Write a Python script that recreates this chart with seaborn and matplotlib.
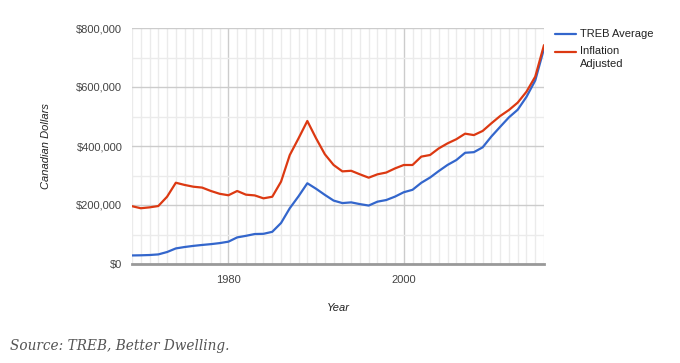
import numpy as np
import pandas as pd
import matplotlib
matplotlib.use("Agg")
import matplotlib.pyplot as plt
from matplotlib.ticker import MultipleLocator, FuncFormatter
import seaborn as sns

sns.set_theme(style="white")
plt.rcParams['font.family'] = ['Liberation Sans', 'DejaVu Sans']

years = list(range(1969, 2017))
treb_average = [29000, 29492, 30426, 32513, 40605, 52806, 57581, 61389, 64559, 67333,
                70830, 75694, 90203, 95496, 101626, 102318, 109094, 138925, 189105, 229635,
                273698, 255020, 234313, 214971, 206490, 208921, 203028, 198150, 211307, 216815,
                228372, 243255, 251508, 275231, 293067, 315231, 335907, 352388, 377029, 379080,
                395460, 432264, 465014, 497130, 522958, 566611, 622116, 729922]
inflation_adjusted = [196000, 189000, 192000, 196500, 228000, 275500, 268000, 262000, 259000, 247500,
                      238000, 233000, 247500, 235000, 232500, 222600, 228000, 279000, 369500, 426000,
                      484800, 426000, 372000, 335600, 314000, 316000, 304000, 292600, 304000, 310000,
                      324000, 335600, 335600, 364000, 369500, 392000, 409000, 423000, 441800, 437000,
                      451000, 477000, 501700, 522000, 547000, 584000, 635000, 742000]
series_names = ["TREB Average", "Inflation Adjusted"]
colors = ["#3366cc", "#dc3912"]

df = pd.DataFrame({
    "Year": years * 2,
    "Price": treb_average + inflation_adjusted,
    "Series": [series_names[0]] * len(years) + [series_names[1]] * len(years),
})

fig = plt.figure(figsize=(6.8, 3.63), dpi=100)
ax = fig.add_axes([132 / 680, 1 - 264 / 363, 412 / 680, 236 / 363])

sns.lineplot(data=df, x="Year", y="Price", hue="Series", palette=colors,
             linewidth=1.6, ax=ax, legend=False, zorder=3)

ax.set_xlim(1969, 2016)
ax.set_ylim(0, 800000)
ax.xaxis.set_minor_locator(MultipleLocator(1))
ax.yaxis.set_major_locator(MultipleLocator(200000))
ax.yaxis.set_minor_locator(MultipleLocator(100000))
ax.set_xticks([1980, 2000])
ax.yaxis.set_major_formatter(FuncFormatter(lambda v, p: "${:,.0f}".format(v)))

ax.grid(which="major", color="#cccccc", linewidth=1)
ax.grid(which="minor", color="#ebebeb", linewidth=1)
ax.set_axisbelow(True)
for s in ["left", "right", "top"]:
    ax.spines[s].set_visible(False)
ax.spines["bottom"].set_color("#999999")
ax.spines["bottom"].set_linewidth(2)
ax.spines["bottom"].set_zorder(4)
ax.tick_params(which="both", length=0, labelsize=8, colors="#444444")
ax.tick_params(axis="y", pad=7)
ax.tick_params(axis="x", pad=8)

ax.set_xlabel("Year", fontsize=8, style="italic", color="#222222", labelpad=13)
ax.set_ylabel("Canadian Dollars", fontsize=8, style="italic", color="#222222", labelpad=18)

# legend on the right
fig.add_artist(plt.Line2D([555 / 680, 576 / 680], [1 - 34 / 363] * 2, color=colors[0], lw=1.6))
fig.add_artist(plt.Line2D([555 / 680, 576 / 680], [1 - 52 / 363] * 2, color=colors[1], lw=1.6))
fig.text(580 / 680, 1 - 34 / 363, "TREB Average", fontsize=8, color="#222222", va="center")
fig.text(580 / 680, 1 - 46 / 363, "Inflation\nAdjusted", fontsize=8, color="#222222",
         va="top", linespacing=1.35)

fig.text(10 / 680, 1 - 346 / 363, "Source: TREB, Better Dwelling.", fontsize=9.8,
         family="DejaVu Serif", style="italic", color="#555555", va="center")

fig.savefig("out.png", dpi=100, facecolor="white")
